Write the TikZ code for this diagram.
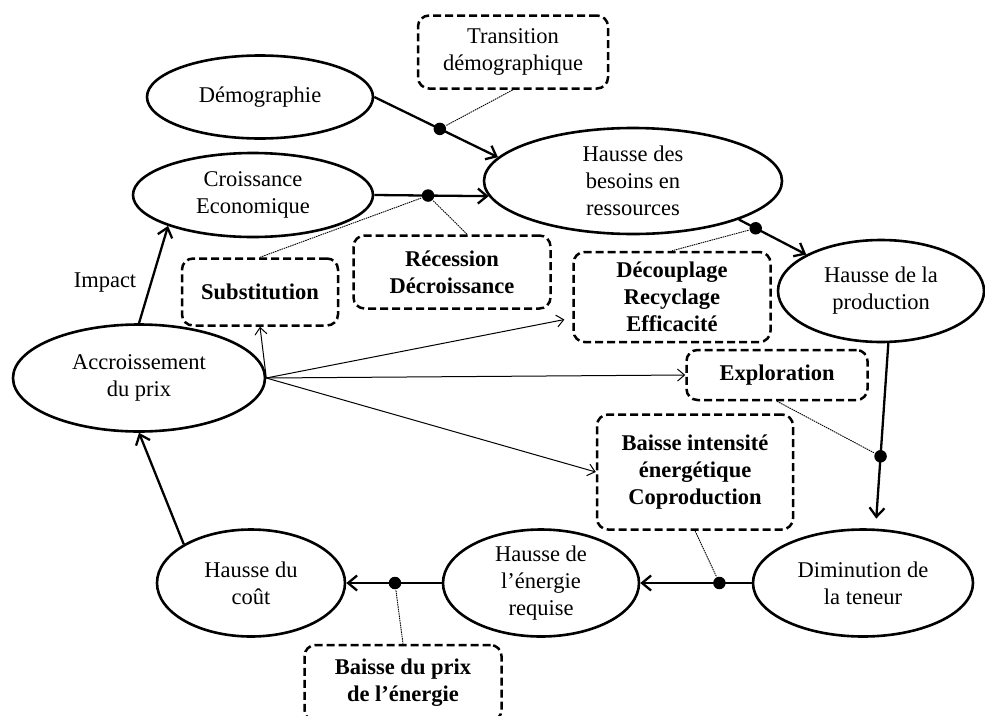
\documentclass[tikz,border=0pt]{standalone}
\usepackage{fontspec}
\setmainfont{Liberation Serif}
\usetikzlibrary{arrows.meta, shapes.geometric}

\begin{document}
\begin{tikzpicture}[x=1pt, y=-1pt, >={Straight Barb[length=9pt,width=15pt]},
    font=\fontsize{22.5}{27}\selectfont,
    oval/.style={ellipse, draw, line width=2.6pt, inner sep=0pt, align=center},
    lever/.style={draw, dash pattern=on 8pt off 4pt, line width=2.5pt, rounded corners=11pt,
      inner sep=0pt, align=center, font=\fontsize{22.5}{27}\selectfont\bfseries},
    flow/.style={->, line width=2.3pt},
    push/.style={->, line width=1pt, >={Straight Barb[length=7pt,width=12pt]}},
    link/.style={dash pattern=on 1.5pt off 0.8pt, line width=0.9pt},
    dot/.style={circle, fill, inner sep=0pt, minimum size=12.5pt}]
    \clip (0,0) rectangle (985,715);
    % Ellipses of the cycle
    \node[oval, minimum width=226, minimum height=83] (demo) at (260,97) {Démographie};
    \node[oval, minimum width=240, minimum height=84] (croiss) at (253,195) {Croissance\\Economique};
    \node[oval, minimum width=298, minimum height=106] (besoins) at (633,181) {Hausse des\\besoins en\\ressources};
    \node[oval, minimum width=206, minimum height=102] (prod) at (881,291) {Hausse de la\\production};
    \node[oval, minimum width=252, minimum height=107] (prix) at (139,378) {Accroissement\\du prix};
    \node[oval, minimum width=188, minimum height=107] (cout) at (251,583) {Hausse du\\coût};
    \node[oval, minimum width=196, minimum height=107] (energie) at (541,583) {Hausse de\\l’énergie\\requise};
    \node[oval, minimum width=220, minimum height=107] (teneur) at (863,583) {Diminution de\\la teneur};
    % Levers
    \node[lever, font=\fontsize{22.5}{27}\selectfont, minimum width=190, minimum height=73] (trans) at (513,52) {Transition\\démographique};
    \node[lever, minimum width=156, minimum height=67] (subst) at (260,292) {Substitution};
    \node[lever, minimum width=197, minimum height=73] (recess) at (452,272) {Récession\\Décroissance};
    \node[lever, minimum width=197, minimum height=90] (decoup) at (672,297) {Découplage\\Recyclage\\Efficacité};
    \node[lever, minimum width=181, minimum height=50] (explo) at (777,375) {Exploration};
    \node[lever, minimum width=196, minimum height=115] (intens) at (695,472) {Baisse intensité\\énergétique\\Coproduction};
    \node[lever, minimum width=197, minimum height=76] (baisse) at (403,683) {Baisse du prix\\de l’énergie};
    % Main loop
    \draw[flow] (demo.east) -- node[dot, pos=0.53] (d1) {} (besoins.170);
    \draw[flow] (croiss.east) -- node[dot, pos=0.47] (d2) {} (besoins.186);
    \draw[flow] (besoins.-20) -- node[dot, pos=0.25] (d3) {} (prod.154);
    \draw[flow, shorten >=10pt] (prod.-82) -- node[dot, pos=0.61] (d4) {} (teneur.77);
    \draw[flow] (teneur.west) -- node[dot, pos=0.29] (d5) {} (energie.east);
    \draw[flow] (energie.west) -- node[dot, pos=0.49] (d6) {} (cout.east);
    \draw[flow] (cout.150) -- (prix.south);
    \draw[flow] (prix.north) -- (croiss.200);
    \node (impact) at (105,283) {Impact};
    % Price reactions
    \draw[push] (prix.east) -- (subst.south);
    \draw[push, shorten >=8pt] (prix.east) -- ([yshift=-21pt]decoup.west);
    \draw[push] (prix.east) -- (explo.west);
    \draw[push] (prix.east) -- (intens.west);
    % Levers on the loop
    \draw[link] (d1) -- (trans.south);
    \draw[link] (d2) -- (subst.north);
    \draw[link] (d2) -- ([xshift=15pt]recess.north);
    \draw[link] (d3) -- (decoup.north);
    \draw[link] (d4) -- (explo.south);
    \draw[link] (d5) -- (intens.south);
    \draw[link] (d6) -- (baisse.north);
\end{tikzpicture}
\end{document}
